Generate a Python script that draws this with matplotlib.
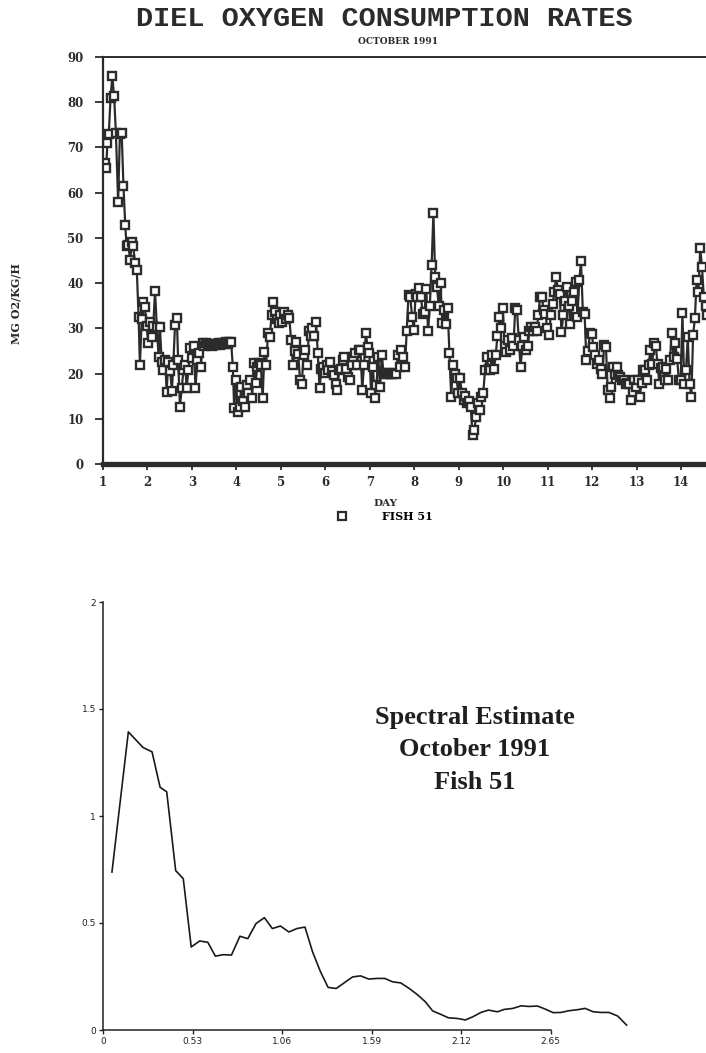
import matplotlib
matplotlib.use("Agg")
import matplotlib.pyplot as plt
from matplotlib.lines import Line2D

# ---- top panel: oxygen consumption, fish 51, October 1991 ----
day = [1.04, 1.07, 1.10, 1.13, 1.17, 1.21, 1.25, 1.29, 1.34, 1.38, 1.42, 1.46, 1.50, 1.53,
       1.57, 1.61, 1.65, 1.68, 1.72, 1.76, 1.80, 1.83, 1.87, 1.91, 1.94, 1.98, 2.02, 2.06,
       2.10, 2.13, 2.17, 2.21, 2.25, 2.28, 2.32, 2.36, 2.40, 2.43, 2.47, 2.51, 2.55, 2.58,
       2.62, 2.66, 2.69, 2.73, 2.77, 2.81, 2.85, 2.88, 2.92, 2.96, 3.00, 3.04, 3.08, 3.12,
       3.16, 3.20, 3.24, 3.28, 3.32, 3.36, 3.40, 3.44, 3.48, 3.52, 3.56, 3.60, 3.64, 3.68,
       3.72, 3.76, 3.80, 3.84, 3.88, 3.92, 3.95, 3.99, 4.03, 4.07, 4.11, 4.15, 4.19, 4.23,
       4.27, 4.31, 4.35, 4.39, 4.43, 4.47, 4.51, 4.55, 4.59, 4.63, 4.67, 4.71, 4.75, 4.79,
       4.83, 4.87, 4.91, 4.95, 4.99, 5.03, 5.07, 5.11, 5.15, 5.19, 5.23, 5.27, 5.31, 5.35,
       5.39, 5.43, 5.47, 5.51, 5.55, 5.59, 5.63, 5.67, 5.71, 5.75, 5.79, 5.83, 5.87, 5.91,
       5.95, 5.99, 6.03, 6.07, 6.11, 6.15, 6.19, 6.23, 6.27, 6.31, 6.35, 6.39, 6.43, 6.47,
       6.51, 6.55, 6.59, 6.63, 6.67, 6.71, 6.75, 6.79, 6.83, 6.87, 6.91, 6.95, 6.99, 7.03,
       7.07, 7.11, 7.15, 7.19, 7.23, 7.27, 7.31, 7.35, 7.39, 7.43, 7.47, 7.51, 7.55, 7.59,
       7.63, 7.67, 7.71, 7.75, 7.79, 7.83, 7.87, 7.91, 7.95, 7.99, 8.03, 8.07, 8.11, 8.15,
       8.19, 8.23, 8.27, 8.31, 8.35, 8.39, 8.43, 8.47, 8.51, 8.55, 8.59, 8.63, 8.67, 8.71,
       8.75, 8.79, 8.83, 8.87, 8.91, 8.95, 8.99, 9.03, 9.07, 9.11, 9.15, 9.19, 9.23, 9.27,
       9.31, 9.35, 9.39, 9.43, 9.47, 9.51, 9.55, 9.59, 9.63, 9.67, 9.71, 9.75, 9.79, 9.83,
       9.87, 9.91, 9.95, 9.99, 10.03, 10.07, 10.11, 10.15, 10.19, 10.23, 10.27, 10.31, 10.35,
       10.39, 10.43, 10.47, 10.51, 10.55, 10.59, 10.63, 10.67, 10.71, 10.75, 10.79, 10.83,
       10.87, 10.91, 10.95, 10.99, 11.03, 11.07, 11.11, 11.15, 11.19, 11.23, 11.27, 11.31,
       11.35, 11.39, 11.43, 11.47, 11.51, 11.55, 11.59, 11.63, 11.67, 11.71, 11.75, 11.79,
       11.83, 11.87, 11.91, 11.95, 11.99, 12.03, 12.07, 12.11, 12.15, 12.19, 12.23, 12.27,
       12.31, 12.35, 12.39, 12.43, 12.47, 12.51, 12.55, 12.59, 12.63, 12.67, 12.71, 12.75,
       12.79, 12.83, 12.87, 12.91, 12.95, 12.99, 13.03, 13.07, 13.11, 13.15, 13.19, 13.23,
       13.27, 13.31, 13.35, 13.39, 13.43, 13.47, 13.51, 13.55, 13.59, 13.63, 13.67, 13.71,
       13.75, 13.79, 13.83, 13.87, 13.91, 13.95, 13.99, 14.03, 14.07, 14.11, 14.15, 14.19,
       14.23, 14.27, 14.31, 14.35, 14.39, 14.43, 14.47, 14.51, 14.55, 14.59]
oxygen = [66.5, 65.5, 71.0, 73.0, 81.0, 85.7, 81.3, 73.2, 58.0, 73.0, 73.2, 61.5, 52.9, 48.1,
          48.5, 45.1, 49.2, 48.1, 44.4, 42.9, 32.6, 21.9, 32.0, 35.9, 34.8, 30.5, 26.7, 31.3,
          28.0, 30.5, 38.3, 30.4, 23.7, 30.4, 22.6, 20.8, 23.0, 16.0, 22.6, 20.5, 16.2, 21.9,
          30.8, 32.2, 23.0, 12.7, 16.7, 20.8, 22.0, 16.7, 20.8, 25.6, 23.5, 26.0, 16.7, 23.0,
          24.5, 21.5, 26.7, 26.0, 26.7, 26.3, 26.5, 26.2, 26.6, 26.3, 26.5, 26.8, 26.4, 26.7,
          26.5, 27.0, 26.6, 26.9, 27.0, 21.5, 12.3, 18.6, 11.6, 12.5, 17.1, 14.0, 12.7, 17.5,
          15.6, 18.5, 14.5, 22.3, 18.0, 21.5, 22.3, 21.8, 14.5, 24.8, 22.0, 28.9, 28.0, 33.0,
          35.9, 33.7, 32.0, 31.1, 33.0, 31.5, 33.7, 32.0, 33.0, 32.2, 27.4, 21.9, 25.0, 27.0,
          24.4, 18.6, 17.8, 24.0, 25.2, 22.0, 29.3, 28.2, 30.0, 28.2, 31.5, 24.5, 16.7, 21.0,
          21.5, 20.2, 22.0, 20.7, 22.6, 20.5, 19.7, 17.8, 16.4, 20.7, 21.0, 22.9, 23.7, 21.0,
          19.3, 18.6, 22.0, 23.7, 24.5, 22.0, 25.2, 25.1, 16.4, 22.0, 28.9, 25.9, 24.5, 15.6,
          21.5, 14.5, 17.5, 23.7, 17.1, 24.1, 20.0, 20.1, 20.0, 20.1, 20.0, 20.0, 20.1, 20.0,
          24.1, 21.5, 25.2, 23.7, 21.5, 29.3, 37.4, 36.9, 32.6, 29.6, 37.6, 37.0, 38.9, 37.0,
          33.2, 33.7, 38.8, 29.3, 35.0, 44.0, 55.5, 41.4, 39.1, 35.0, 40.0, 31.1, 34.0, 31.0,
          34.4, 24.5, 14.9, 21.9, 20.0, 19.0, 15.6, 19.0, 15.6, 14.1, 15.0, 13.4, 14.0, 12.5,
          6.4, 7.5, 10.5, 13.4, 12.0, 14.9, 15.6, 20.7, 23.7, 21.0, 20.7, 24.1, 21.0, 24.0,
          28.2, 32.6, 30.0, 34.4, 26.2, 24.8, 27.4, 25.1, 27.8, 26.0, 34.4, 34.0, 27.4,
          21.5, 26.0, 28.1, 25.1, 26.0, 29.3, 30.3, 29.3, 30.3, 29.3, 33.0, 37.0,
          36.9, 34.0, 33.2, 30.0, 28.5, 33.0, 35.4, 38.0, 41.4, 38.5, 37.6, 29.2,
          33.0, 36.0, 39.1, 35.0, 31.0, 36.0, 38.0, 40.2, 32.5, 40.7, 44.8, 33.7,
          33.2, 22.9, 25.0, 28.9, 28.8, 25.9, 24.0, 22.2, 23.0, 21.0, 20.0, 26.3,
          25.9, 16.4, 14.5, 17.1, 21.5, 20.0, 21.5, 19.6, 19.3, 18.5, 18.5, 17.8,
          18.0, 17.8, 14.2, 16.0, 18.5, 17.0, 18.6, 14.9, 18.0, 20.8, 20.7, 18.6,
          22.0, 25.2, 22.2, 26.7, 26.2, 22.2, 17.8, 21.2, 21.5, 18.6, 21.0, 18.5,
          23.0, 28.9, 23.7, 26.7, 23.3, 18.5, 18.6, 33.3, 17.8, 20.8, 28.0, 17.8,
          14.9, 28.5, 32.2, 40.7, 38.0, 47.7, 43.6, 37.0, 35.0, 33.0]
day_ticks = list(range(1, 15))
o2_ticks = list(range(0, 91, 10))

# ---- bottom panel: spectral estimate ----
freq = [0.053, 0.150, 0.237, 0.290, 0.338, 0.377, 0.430, 0.475, 0.522, 0.572, 0.620,
        0.665, 0.712, 0.760, 0.810, 0.857, 0.905, 0.955, 1.002, 1.050, 1.100, 1.147,
        1.195, 1.240, 1.287, 1.332, 1.380, 1.430, 1.477, 1.524, 1.572, 1.622, 1.667,
        1.714, 1.762, 1.812, 1.859, 1.907, 1.951, 1.999, 2.044, 2.097, 2.144, 2.189,
        2.236, 2.281, 2.334, 2.373, 2.426, 2.474, 2.518, 2.571, 2.616, 2.664, 2.710,
        2.756, 2.809, 2.853, 2.901, 2.948, 2.994, 3.046, 3.098]
spec = [0.738, 1.393, 1.320, 1.300, 1.134, 1.113, 0.745, 0.707, 0.388, 0.416, 0.410,
        0.345, 0.352, 0.350, 0.438, 0.427, 0.497, 0.525, 0.474, 0.486, 0.458, 0.474,
        0.481, 0.365, 0.272, 0.199, 0.194, 0.222, 0.248, 0.253, 0.238, 0.241, 0.241,
        0.225, 0.220, 0.194, 0.166, 0.132, 0.089, 0.073, 0.057, 0.054, 0.047, 0.062,
        0.082, 0.093, 0.085, 0.096, 0.101, 0.113, 0.110, 0.112, 0.098, 0.081, 0.082,
        0.090, 0.095, 0.101, 0.085, 0.082, 0.082, 0.065, 0.023]
freq_ticks = [0, 0.53, 1.06, 1.59, 2.12, 2.65]
freq_labels = ["0", "0.53", "1.06", "1.59", "2.12", "2.65"]
spec_ticks = [0, 0.5, 1, 1.5, 2]
spec_labels = ["0", "0.5", "1", "1.5", "2"]

ink = "#2b2b2b"
W, H = 706, 1053
fig = plt.figure(figsize=(W / 100, H / 100), dpi=100)

# top axes
ax1 = fig.add_axes([103 / W, 1 - 464 / H, (W - 103) / W, (464 - 57) / H])
ax1.plot(day, oxygen, color=ink, lw=1.6, marker="s", ms=5.5, mfc="white",
         mec=ink, mew=1.7)
ax1.set_xlim(1, 14.56)
ax1.set_ylim(0, 90)
ax1.spines["right"].set_visible(False)
ax1.spines["top"].set_linewidth(1.4)
ax1.spines["left"].set_linewidth(1.6)
ax1.spines["bottom"].set_linewidth(3.8)
for s in ax1.spines.values():
    s.set_color(ink)
ax1.set_yticks(o2_ticks)
ax1.set_xticks(day_ticks)
ax1.tick_params(axis="y", length=6, width=1.3, pad=8, colors=ink, labelsize=8.5)
ax1.tick_params(axis="x", length=4, width=1.3, pad=5, colors=ink, labelsize=8.5)
for lab in ax1.get_xticklabels() + ax1.get_yticklabels():
    lab.set_fontfamily("DejaVu Serif")
    lab.set_fontweight("bold")

fig.text(384 / W, 1 - 19 / H, "DIEL OXYGEN CONSUMPTION RATES", ha="center", va="center",
         fontsize=20.5, family="Liberation Mono", weight="bold", color=ink)
fig.text(398 / W, 1 - 41 / H, "OCTOBER 1991", ha="center", va="center", fontsize=6.5,
         family="DejaVu Serif", weight="bold", color=ink)
fig.text(16 / W, 1 - 304 / H, "MG O2/KG/H", rotation=90, ha="center", va="center",
         fontsize=8, family="DejaVu Serif", weight="bold", color=ink)
fig.text(385 / W, 1 - 503 / H, "DAY", ha="center", va="center", fontsize=7.5,
         family="DejaVu Serif", weight="bold", color=ink)
handle = Line2D([], [], ls="none", marker="s", ms=6, mfc="white", mec=ink, mew=1.6)
fig.legend([handle], ["FISH 51"], loc="center", bbox_to_anchor=(382 / W, 1 - 516 / H),
           frameon=False, handletextpad=2.6, prop={"family": "DejaVu Serif",
                                                   "weight": "bold", "size": 8})

# bottom axes
ax2 = fig.add_axes([103 / W, 1 - 1030 / H, 3.3 * 169 / W, (1030 - 602) / H])
ax2.plot(freq, spec, color="#1a1a1a", lw=1.2)
ax2.set_xlim(0, 3.3)
ax2.set_ylim(0, 2)
ax2.spines["right"].set_visible(False)
ax2.spines["top"].set_visible(False)
ax2.spines["bottom"].set_bounds(0, 2.65)
for s in ("left", "bottom"):
    ax2.spines[s].set_linewidth(1.1)
    ax2.spines[s].set_color("#222222")
ax2.set_xticks(freq_ticks)
ax2.set_xticklabels(freq_labels)
ax2.set_yticks(spec_ticks)
ax2.set_yticklabels(spec_labels)
ax2.tick_params(length=3, width=1, pad=2, labelsize=6.5, colors="#222222")
ax2.text(475 / W, 1 - 750 / H, "Spectral Estimate\nOctober 1991\nFish 51",
         transform=fig.transFigure, ha="center", va="center", fontsize=19,
         family="Liberation Serif", weight="bold", linespacing=1.55, color="#1f1f1f")

fig.savefig("out.png", dpi=100)
